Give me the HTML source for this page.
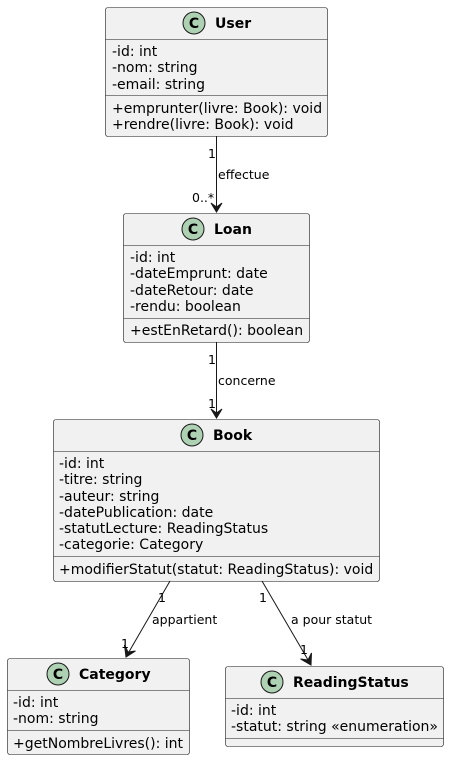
<!DOCTYPE html>
<html><head><meta charset="utf-8"><style>
html,body{margin:0;padding:0;background:#fff}
svg{display:block}
text{font-family:"DejaVu Sans","Liberation Sans",sans-serif;font-size:14px;fill:#000}
.t{font-weight:bold;font-size:14px}
.l{font-size:12.5px}
.box{fill:#F1F1F1;stroke:#181818;stroke-width:0.6}
.sep{stroke:#181818;stroke-width:0.6}
.c{fill:#ADD1B2;stroke:#181818;stroke-width:1}
.ln{stroke:#181818;stroke-width:1;fill:none}
.ah{fill:#181818;stroke:#181818;stroke-width:1}
</style></head><body>
<svg width="449" height="760" viewBox="0 0 449 760" xmlns="http://www.w3.org/2000/svg">
<!-- User -->
<rect class="box" x="105.5" y="7.5" width="222" height="129" rx="2.5"/>
<line class="sep" x1="105.5" y1="39.5" x2="327.5" y2="39.5"/>
<line class="sep" x1="105.5" y1="95.5" x2="327.5" y2="95.5"/>
<circle class="c" cx="194" cy="23" r="11"/><text x="194" y="28" text-anchor="middle" style="font-weight:bold;font-size:14px">C</text>
<text class="t" x="215" y="28">User</text>
<text x="112" y="56">-id: int</text>
<text x="112" y="72">-nom: string</text>
<text x="112" y="89">-email: string</text>
<text x="112" y="113">+emprunter(livre: Book): void</text>
<text x="112" y="129">+rendre(livre: Book): void</text>
<!-- Loan -->
<rect class="box" x="123.5" y="213.5" width="186" height="129" rx="2.5"/>
<line class="sep" x1="123.5" y1="245.5" x2="309.5" y2="245.5"/>
<line class="sep" x1="123.5" y1="318.5" x2="309.5" y2="318.5"/>
<circle class="c" cx="193" cy="229" r="11"/><text x="193" y="234" text-anchor="middle" style="font-weight:bold;font-size:14px">C</text>
<text class="t" x="214" y="234">Loan</text>
<text x="130" y="262">-id: int</text>
<text x="130" y="278">-dateEmprunt: date</text>
<text x="130" y="295">-dateRetour: date</text>
<text x="130" y="311">-rendu: boolean</text>
<text x="130" y="335">+estEnRetard(): boolean</text>
<!-- Book -->
<rect class="box" x="53.5" y="419.5" width="326" height="162" rx="2.5"/>
<line class="sep" x1="53.5" y1="451.5" x2="379.5" y2="451.5"/>
<line class="sep" x1="53.5" y1="556.5" x2="379.5" y2="556.5"/>
<circle class="c" cx="192" cy="435" r="11"/><text x="192" y="440" text-anchor="middle" style="font-weight:bold;font-size:14px">C</text>
<text class="t" x="213" y="440">Book</text>
<text x="59" y="468">-id: int</text>
<text x="59" y="484">-titre: string</text>
<text x="59" y="501">-auteur: string</text>
<text x="59" y="517">-datePublication: date</text>
<text x="59" y="533">-statutLecture: ReadingStatus</text>
<text x="59" y="549">-categorie: Category</text>
<text x="59" y="574">+modifierStatut(statut: ReadingStatus): void</text>
<!-- Category -->
<rect class="box" x="7.5" y="658.5" width="182" height="96" rx="2.5"/>
<line class="sep" x1="7.5" y1="690.5" x2="189.5" y2="690.5"/>
<line class="sep" x1="7.5" y1="730.5" x2="189.5" y2="730.5"/>
<circle class="c" cx="58" cy="674" r="11"/><text x="58" y="679" text-anchor="middle" style="font-weight:bold;font-size:14px">C</text>
<text class="t" x="79" y="679">Category</text>
<text x="13" y="707">-id: int</text>
<text x="13" y="723">-nom: string</text>
<text x="13" y="748">+getNombreLivres(): int</text>
<!-- ReadingStatus -->
<rect class="box" x="225.5" y="666.5" width="218" height="80" rx="2.5"/>
<line class="sep" x1="225.5" y1="698.5" x2="443.5" y2="698.5"/>
<line class="sep" x1="225.5" y1="738.5" x2="443.5" y2="738.5"/>
<circle class="c" cx="272" cy="682" r="11"/><text x="272" y="687" text-anchor="middle" style="font-weight:bold;font-size:14px">C</text>
<text class="t" x="293" y="687">ReadingStatus</text>
<text x="231" y="715">-id: int</text>
<text x="231" y="731">-statut: string «enumeration»</text>
<!-- connectors -->
<line class="ln" x1="216.5" y1="136" x2="216.5" y2="212"/>
<path class="ah" d="M211,203 L216.5,212 L222,203 L216.5,207 Z"/>
<text class="l" x="208" y="158">1</text>
<text class="l" x="218" y="179">effectue</text>
<text class="l" x="192" y="202">0..*</text>
<line class="ln" x1="216.5" y1="342" x2="216.5" y2="418"/>
<path class="ah" d="M211,409 L216.5,418 L222,409 L216.5,413 Z"/>
<text class="l" x="208" y="364">1</text>
<text class="l" x="218" y="385">concerne</text>
<text class="l" x="208" y="408">1</text>
<line class="ln" x1="170" y1="581" x2="126" y2="657"/>
<path class="ah" d="M124.5,645 L126,657 L135.5,651 L128,652 Z"/>
<text class="l" x="158" y="602">1</text>
<text class="l" x="152" y="624">appartient</text>
<text class="l" x="121" y="648">1</text>
<line class="ln" x1="262" y1="581" x2="311" y2="665"/>
<path class="ah" d="M300.5,659 L311,665 L311.5,653 L308,660 Z"/>
<text class="l" x="259" y="602">1</text>
<text class="l" x="291" y="624">a pour statut</text>
<text class="l" x="300" y="654">1</text>
</svg>
</body></html>
